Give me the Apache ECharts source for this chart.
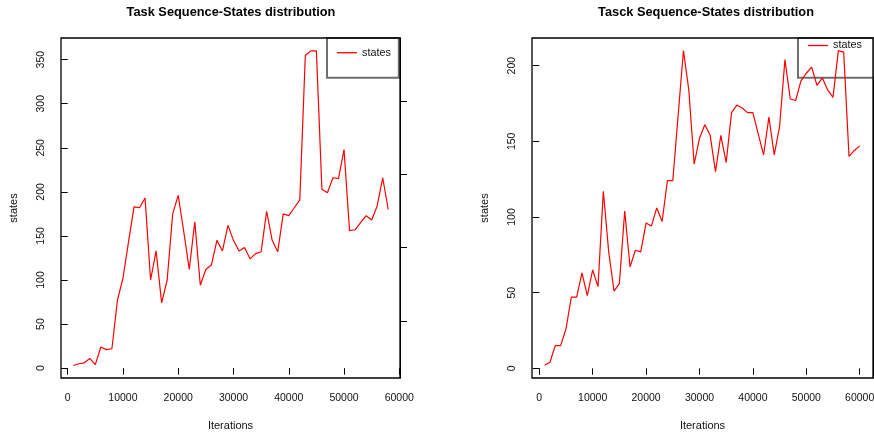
<!DOCTYPE html>
<html>
<head>
<meta charset="utf-8">
<title>Task Sequence-States distribution</title>
<script src="https://cdn.jsdelivr.net/npm/echarts@6.0.0/dist/echarts.min.js"></script>
<style>
  html, body { margin: 0; padding: 0; background: #ffffff; }
  #chart { width: 874px; height: 434px; }
</style>
</head>
<body>
<div id="chart"></div>
<script>
// Iteration checkpoints and number of states reached, first run
const iterationsA = [
  1000, 2000, 3000, 4000, 5000, 6000, 7000, 8000, 9000, 10000,
  11000, 12000, 13000, 14000, 15000, 16000, 17000, 18000, 19000, 20000,
  21000, 22000, 23000, 24000, 25000, 26000, 27000, 28000, 29000, 30000,
  31000, 32000, 33000, 34000, 35000, 36000, 37000, 38000, 39000, 40000,
  41000, 42000, 43000, 44000, 45000, 46000, 47000, 48000, 49000, 50000,
  51000, 52000, 53000, 54000, 55000, 56000, 57000, 58000
];
const statesA = [
  3, 5, 6, 11, 4, 24, 21, 22, 77, 102,
  143, 183, 182, 193, 100, 133, 74, 100, 175, 196,
  155, 112, 166, 94, 112, 117, 145, 133, 162, 145,
  133, 137, 124, 130, 132, 178, 145, 132, 175, 173,
  182, 191, 355, 360, 360, 203, 199, 216, 215, 248,
  156, 157, 165, 173, 168, 184, 216, 180
];

// Second run
const iterationsB = [
  1000, 2000, 3000, 4000, 5000, 6000, 7000, 8000, 9000, 10000,
  11000, 12000, 13000, 14000, 15000, 16000, 17000, 18000, 19000, 20000,
  21000, 22000, 23000, 24000, 25000, 26000, 27000, 28000, 29000, 30000,
  31000, 32000, 33000, 34000, 35000, 36000, 37000, 38000, 39000, 40000,
  41000, 42000, 43000, 44000, 45000, 46000, 47000, 48000, 49000, 50000,
  51000, 52000, 53000, 54000, 55000, 56000, 57000, 58000, 59000, 60000
];
const statesB = [
  2, 4, 15, 15, 26, 47, 47, 63, 48, 65,
  54, 117, 77, 51, 56, 104, 67, 78, 77, 96,
  94, 106, 97, 124, 124, 167, 210, 184, 135, 152,
  161, 154, 130, 154, 136, 169, 174, 172, 169, 169,
  155, 141, 166, 141, 160, 204, 178, 177, 190, 195,
  199, 187, 192, 184, 179, 210, 209, 140, 144, 147
];

// Tick values
const xTicks = [0, 10000, 20000, 30000, 40000, 50000, 60000];
const yTicksA = [0, 50, 100, 150, 200, 250, 300, 350];
const yTicksB = [0, 50, 100, 150, 200];
const sideTicks = [1, 2, 3, 4];

const titles = ['Task Sequence-States distribution', 'Tasck Sequence-States distribution'];
const seriesName = 'states';

const FONT = '"Liberation Sans", Arial, Helvetica, sans-serif';
const INK = '#111111';
const plain = v => String(v);

function pairs(xs, ys) {
  return xs.map((x, i) => [x, ys[i]]);
}

function bottomAxis(gridIndex, min, max) {
  return {
    type: 'value', gridIndex, min, max,
    axisLine: { show: false },
    splitLine: { show: false },
    axisTick: { show: true, length: 6.5, customValues: xTicks, lineStyle: { color: '#000', width: 1 } },
    axisLabel: { customValues: xTicks, formatter: plain, margin: 15, fontSize: 10.5, color: INK, fontFamily: FONT },
    name: 'Iterations', nameLocation: 'middle', nameGap: 42,
    nameTextStyle: { fontSize: 11, color: INK, fontFamily: FONT }
  };
}

function leftAxis(gridIndex, min, max, ticks) {
  return {
    type: 'value', gridIndex, min, max, position: 'left',
    axisLine: { show: false },
    splitLine: { show: false },
    axisTick: { show: true, length: 6.5, customValues: ticks, lineStyle: { color: '#000', width: 1 } },
    axisLabel: { customValues: ticks, formatter: plain, rotate: 90, margin: 14, fontSize: 10.5, color: INK, fontFamily: FONT },
    name: 'states', nameLocation: 'middle', nameGap: 42,
    nameTextStyle: { fontSize: 11, color: INK, fontFamily: FONT }
  };
}

function sideAxis(gridIndex, min, max) {
  return {
    type: 'value', gridIndex, min, max, position: 'right',
    axisLine: { show: true, lineStyle: { color: '#000', width: 1 } },
    splitLine: { show: false },
    axisTick: { show: true, length: 7, customValues: sideTicks, lineStyle: { color: '#000', width: 1 } },
    axisLabel: { show: false }
  };
}

function legendBox(left, padding) {
  return {
    data: [{ name: seriesName, icon: 'rect' }], left, top: 38, orient: 'vertical',
    padding, itemWidth: 20, itemHeight: 1.3, itemGap: 0, itemTextGap: 10,
    borderColor: '#6f6f6f', borderWidth: 2, z: 1,
    selectedMode: false,
    itemStyle: { color: '#ff0000', borderWidth: 0 },
    textStyle: { fontSize: 10.8, color: INK, fontFamily: FONT }
  };
}

function plotGrid(left, width) {
  return {
    left, top: 38, width, height: 340, show: true, z: 3,
    outerBoundsMode: 'none', containLabel: false,
    borderColor: '#000', borderWidth: 1.3, backgroundColor: 'transparent'
  };
}

const option = {
  animation: false,
  backgroundColor: '#ffffff',
  textStyle: { fontFamily: FONT },
  title: titles.map((t, i) => ({
    text: t, left: i === 0 ? 231 : 706, top: 5.5, textAlign: 'center', padding: 0,
    textStyle: { fontSize: 12.8, fontWeight: 'bold', color: '#000', fontFamily: FONT }
  })),
  legend: [
    legendBox(327, [9.2, 8, 19.5, 10]),
    legendBox(798, [2, 12, 26.7, 10])
  ],
  grid: [plotGrid(61, 339), plotGrid(532, 341)],
  xAxis: [
    bottomAxis(0, -1210, 60130),
    bottomAxis(1, -1360, 62490)
  ],
  yAxis: [
    leftAxis(0, -11.2, 374.6, yTicksA),
    sideAxis(0, 0.222, 4.860),
    leftAxis(1, -6.4, 218.3, yTicksB),
    sideAxis(1, 0.070, 4.881)
  ],
  series: [
    {
      name: seriesName, type: 'line', xAxisIndex: 0, yAxisIndex: 0,
      data: pairs(iterationsA, statesA), symbol: 'none',
      lineStyle: { color: '#ff0000', width: 1.2 }, itemStyle: { color: '#ff0000' }
    },
    {
      name: seriesName, type: 'line', xAxisIndex: 1, yAxisIndex: 2,
      data: pairs(iterationsB, statesB), symbol: 'none',
      lineStyle: { color: '#ff0000', width: 1.2 }, itemStyle: { color: '#ff0000' }
    }
  ]
};

const chart = echarts.init(document.getElementById('chart'), null, { renderer: 'canvas' });
chart.setOption(option);
</script>
</body>
</html>
